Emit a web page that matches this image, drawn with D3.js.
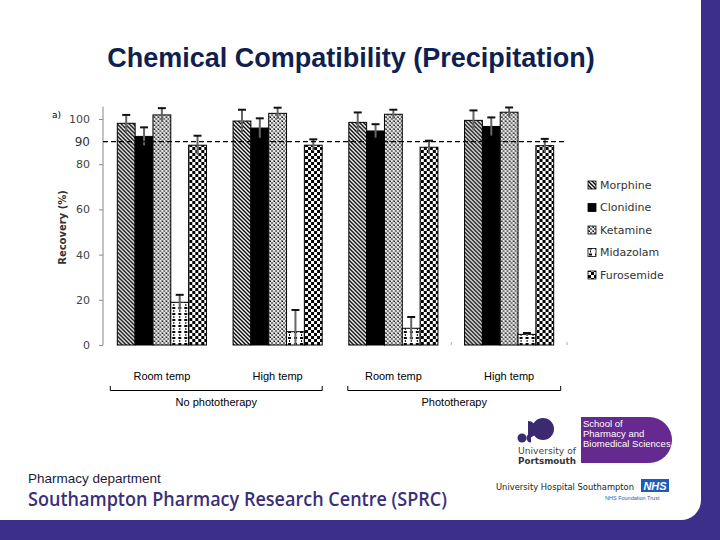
<!DOCTYPE html>
<html><head><meta charset="utf-8">
<script src="https://cdn.jsdelivr.net/npm/d3@7"></script>
<style>html,body{margin:0;padding:0;background:#fff;}svg{display:block;}</style>
</head><body>
<svg id="chart" width="720" height="540"></svg>
<script>
// ---- data ----
const categories = ["Room temp", "High temp", "Room temp", "High temp"];
const conditions = ["No phototherapy", "Phototherapy"];
const series = ["Morphine", "Clonidine", "Ketamine", "Midazolam", "Furosemide"];
const morphine   = [98.1, 99.1, 98.5, 99.4];
const clonidine  = [92.3, 96.0, 94.7, 96.7];
const ketamine   = [101.8, 102.5, 102.1, 103.0];
const midazolam  = [18.9, 5.9, 7.4, 4.7];
const furosemide = [88.4, 88.4, 87.5, 88.2];
const morphineErr   = [3.7, 5.0, 4.4, 4.4];
const clonidineErr  = [4.0, 4.3, 3.0, 4.0];
const ketamineErr   = [3.0, 2.5, 2.0, 2.1];
const midazolamErr  = [3.3, 9.6, 5.0, 0.6];
const furosemideErr = [4.2, 2.6, 2.9, 3.0];
const yTicks = [0, 20, 40, 60, 80, 100];
const threshold = 90;

const values = [morphine, clonidine, ketamine, midazolam, furosemide];
const errors = [morphineErr, clonidineErr, ketamineErr, midazolamErr, furosemideErr];
const catKeys = categories.map((c, i) => i);

const svg = d3.select("#chart");

// ---- background frame ----
const purple = "#3b2f8b";
svg.append("rect").attr("x", 0).attr("y", 0).attr("width", 720).attr("height", 540).attr("fill", purple);
svg.append("path").attr("d", "M0,0 H701 V500 A20,20 0 0 1 681,520 H0 Z").attr("fill", "#fff");

// ---- patterns ----
const defs = svg.append("defs");
const pMor = defs.append("pattern").attr("id", "p0").attr("patternUnits", "userSpaceOnUse").attr("width", 4).attr("height", 4);
pMor.append("rect").attr("width", 4).attr("height", 4).attr("fill", "#fff");
pMor.append("path").attr("d", "M-1,-1 L5,5 M-1,3 L1,5 M3,-1 L5,1").attr("stroke", "#000").attr("stroke-width", 1.4);

const pClo = defs.append("pattern").attr("id", "p1").attr("patternUnits", "userSpaceOnUse").attr("width", 4).attr("height", 4);
pClo.append("rect").attr("width", 4).attr("height", 4).attr("fill", "#000");

const pKet = defs.append("pattern").attr("id", "p2").attr("patternUnits", "userSpaceOnUse").attr("width", 4).attr("height", 4);
pKet.append("rect").attr("width", 4).attr("height", 4).attr("fill", "#e6e6e6");
pKet.append("rect").attr("x", 0).attr("y", 0).attr("width", 2).attr("height", 2).attr("fill", "#777");
pKet.append("rect").attr("x", 2).attr("y", 2).attr("width", 2).attr("height", 2).attr("fill", "#777");
pKet.append("rect").attr("x", 1).attr("y", 1).attr("width", 1).attr("height", 1).attr("fill", "#111");

const pMid = defs.append("pattern").attr("id", "p3").attr("patternUnits", "userSpaceOnUse").attr("width", 6).attr("height", 6);
pMid.append("rect").attr("width", 6).attr("height", 6).attr("fill", "#fff");
pMid.append("rect").attr("x", 1).attr("y", 1).attr("width", 3).attr("height", 2).attr("fill", "#000");
pMid.append("rect").attr("x", 2).attr("y", 4).attr("width", 1).attr("height", 2).attr("fill", "#000");

const pFur = defs.append("pattern").attr("id", "p4").attr("patternUnits", "userSpaceOnUse").attr("width", 6).attr("height", 6);
pFur.append("rect").attr("width", 6).attr("height", 6).attr("fill", "#fff");
pFur.append("rect").attr("x", 0).attr("y", 0).attr("width", 3).attr("height", 3).attr("fill", "#000");
pFur.append("rect").attr("x", 3).attr("y", 3).attr("width", 3).attr("height", 3).attr("fill", "#000");

// ---- title ----
svg.append("text").attr("x", 351).attr("y", 67).attr("text-anchor", "middle")
  .attr("font-family", "Liberation Sans, Arial, sans-serif").attr("font-weight", "bold")
  .attr("font-size", 27).attr("fill", "#0f1f50").text("Chemical Compatibility (Precipitation)");

// ---- scales ----
const x0 = d3.scaleBand().domain(catKeys).range([104, 567]).paddingInner(0.23).paddingOuter(0.115);
const x1 = d3.scaleBand().domain(series).range([0, x0.bandwidth()]);
const y = d3.scaleLinear().domain([0, 100]).range([345, 119]);

// ---- y axis ----
const axisX = 103;
const yAxis = svg.append("g").attr("transform", `translate(${axisX},0)`)
  .call(d3.axisLeft(y).tickValues(yTicks).tickSize(4).tickFormat(d3.format("d")));
yAxis.select(".domain").remove();
yAxis.selectAll(".tick line").attr("stroke", "#888");
yAxis.selectAll(".tick text").attr("font-family", "DejaVu Sans, sans-serif").attr("font-size", 11)
  .attr("fill", "#444").attr("x", -13);
svg.append("line").attr("x1", axisX).attr("x2", axisX).attr("y1", y(0)).attr("y2", y(105.5))
  .attr("stroke", "#888").attr("stroke-width", 1);
// threshold label
svg.append("text").attr("x", axisX - 13).attr("y", y(threshold)).attr("dy", "0.36em").attr("text-anchor", "end")
  .attr("font-family", "DejaVu Sans, sans-serif").attr("font-size", 12).attr("fill", "#333").text(threshold);
svg.append("line").attr("x1", axisX).attr("x2", axisX + 4).attr("y1", y(threshold)).attr("y2", y(threshold))
  .attr("stroke", "#555");

svg.append("text").attr("transform", `translate(66,${y(52)}) rotate(-90)`).attr("text-anchor", "middle")
  .attr("font-family", "DejaVu Sans, sans-serif").attr("font-weight", "bold").attr("font-size", 10)
  .attr("fill", "#333").text("Recovery (%)");
svg.append("text").attr("x", 52).attr("y", 118).attr("font-family", "DejaVu Sans, sans-serif")
  .attr("font-size", 9).attr("fill", "#000").text("a)");

// small category ticks
[2, 3].forEach(i => {
  const bx = x0(i) + x0.bandwidth() + x0.step() * x0.paddingInner() / 2;
  svg.append("line").attr("x1", bx).attr("x2", bx).attr("y1", y(0) - 3).attr("y2", y(0))
    .attr("stroke", "#aaa");
});

// ---- bars ----
const groups = svg.append("g").selectAll("g").data(catKeys).join("g")
  .attr("transform", d => `translate(${x0(d)},0)`);
series.forEach((s, si) => {
  groups.append("rect")
    .attr("x", x1(s)).attr("width", x1.bandwidth())
    .attr("y", d => y(values[si][d])).attr("height", d => y(0) - y(values[si][d]))
    .attr("fill", `url(#p${si})`).attr("stroke", "#000").attr("stroke-width", 1);
});
// error bars
series.forEach((s, si) => {
  const cx = x1(s) + x1.bandwidth() / 2;
  groups.append("line").attr("x1", cx).attr("x2", cx)
    .attr("y1", d => y(Math.max(0, values[si][d] - errors[si][d])))
    .attr("y2", d => y(values[si][d] + errors[si][d]))
    .attr("stroke", "#666").attr("stroke-width", 2);
  groups.append("line").attr("x1", cx - 4).attr("x2", cx + 4)
    .attr("y1", d => y(values[si][d] + errors[si][d]))
    .attr("y2", d => y(values[si][d] + errors[si][d]))
    .attr("stroke", "#111").attr("stroke-width", 2);
});

// threshold dashed line
svg.append("line").attr("x1", axisX).attr("x2", 567).attr("y1", y(threshold)).attr("y2", y(threshold))
  .attr("stroke", "#000").attr("stroke-width", 1.2).attr("stroke-dasharray", "5,3");

// ---- legend ----
const legend = svg.append("g").selectAll("g").data(series).join("g")
  .attr("transform", (d, i) => `translate(588,${185 + i * 22.5})`);
legend.append("rect").attr("x", 0).attr("y", -4).attr("width", 8).attr("height", 8)
  .attr("fill", (d, i) => `url(#p${i})`).attr("stroke", "#000").attr("stroke-width", 0.8);
legend.append("text").attr("x", 12).attr("y", 0).attr("dy", "0.36em")
  .attr("font-family", "DejaVu Sans, sans-serif").attr("font-size", 11).attr("fill", "#333").text(d => d);

// ---- category labels & brackets ----
const labelFont = "Liberation Sans, Arial, sans-serif";
svg.append("g").selectAll("text").data(catKeys).join("text")
  .attr("x", d => x0(d) + x0.bandwidth() / 2).attr("y", 380).attr("text-anchor", "middle")
  .attr("font-family", labelFont).attr("font-size", 11).attr("fill", "#000").text(d => categories[d]);

conditions.forEach((c, ci) => {
  const a = x0(ci * 2) - (ci === 0 ? 7 : 1);
  const b = x0(ci * 2 + 1) + x0.bandwidth() + (ci === 0 ? 0 : 7);
  svg.append("path").attr("d", `M${a},386 V390.5 H${b} V386`).attr("fill", "none")
    .attr("stroke", "#000").attr("stroke-width", 1);
  svg.append("text").attr("x", (a + b) / 2).attr("y", 406).attr("text-anchor", "middle")
    .attr("font-family", labelFont).attr("font-size", 11).attr("fill", "#000").text(c);
});

// ---- footer ----
svg.append("text").attr("x", 28).attr("y", 483).attr("font-family", labelFont)
  .attr("font-size", 13.5).attr("fill", "#1d1a3a").text("Pharmacy department");
svg.append("text").attr("x", 28).attr("y", 506).attr("font-family", "Open Sans, sans-serif")
  .attr("font-weight", 600).attr("font-size", 19.5).attr("fill", "#3a2f7a")
  .attr("textLength", 419).attr("lengthAdjust", "spacingAndGlyphs")
  .text("Southampton Pharmacy Research Centre (SPRC)");

// Portsmouth logo
const logo = svg.append("g");
const lp = "#3b2a6e";
logo.append("circle").attr("cx", 543).attr("cy", 429).attr("r", 11).attr("fill", lp);
logo.append("path").attr("d", "M528,421 A8.5,8.5 0 0 1 528,438 Z").attr("fill", lp);
logo.append("circle").attr("cx", 522).attr("cy", 438).attr("r", 4.5).attr("fill", lp);
logo.append("path").attr("d", "M531,433.5 A4.5,4.5 0 0 0 531,442.5 Z").attr("fill", lp);
logo.append("text").attr("x", 518).attr("y", 454).attr("font-family", "DejaVu Sans, sans-serif")
  .attr("font-size", 8.5).attr("fill", "#444").attr("textLength", 58).attr("lengthAdjust", "spacingAndGlyphs")
  .text("University of");
logo.append("text").attr("x", 518).attr("y", 464).attr("font-family", "DejaVu Sans, sans-serif")
  .attr("font-weight", "bold").attr("font-size", 8.5).attr("fill", "#333").attr("textLength", 58)
  .attr("lengthAdjust", "spacingAndGlyphs").text("Portsmouth");
logo.append("path").attr("d", "M581,417 H649 A23,23 0 0 1 649,463 H581 Z").attr("fill", "#66298f");
["School of", "Pharmacy and", "Biomedical Sciences"].forEach((t, i) => {
  logo.append("text").attr("x", 583).attr("y", 427 + i * 10).attr("font-family", "Liberation Sans, Arial, sans-serif")
    .attr("font-size", 9.5).attr("fill", "#fff").text(t);
});
// NHS
svg.append("text").attr("x", 496).attr("y", 490).attr("font-family", "DejaVu Sans, sans-serif")
  .attr("font-size", 9).attr("fill", "#222").attr("textLength", 138).attr("lengthAdjust", "spacingAndGlyphs")
  .text("University Hospital Southampton");
svg.append("rect").attr("x", 641).attr("y", 479).attr("width", 28).attr("height", 13).attr("fill", "#1e5bb8");
svg.append("text").attr("x", 655).attr("y", 490).attr("text-anchor", "middle").attr("font-family", "Liberation Sans, Arial, sans-serif")
  .attr("font-weight", "bold").attr("font-style", "italic").attr("font-size", 11).attr("fill", "#fff").text("NHS");
svg.append("text").attr("x", 605).attr("y", 500).attr("font-family", "Liberation Sans, Arial, sans-serif")
  .attr("font-size", 5.5).attr("fill", "#1e5bb8").text("NHS Foundation Trust");
</script>
</body></html>
